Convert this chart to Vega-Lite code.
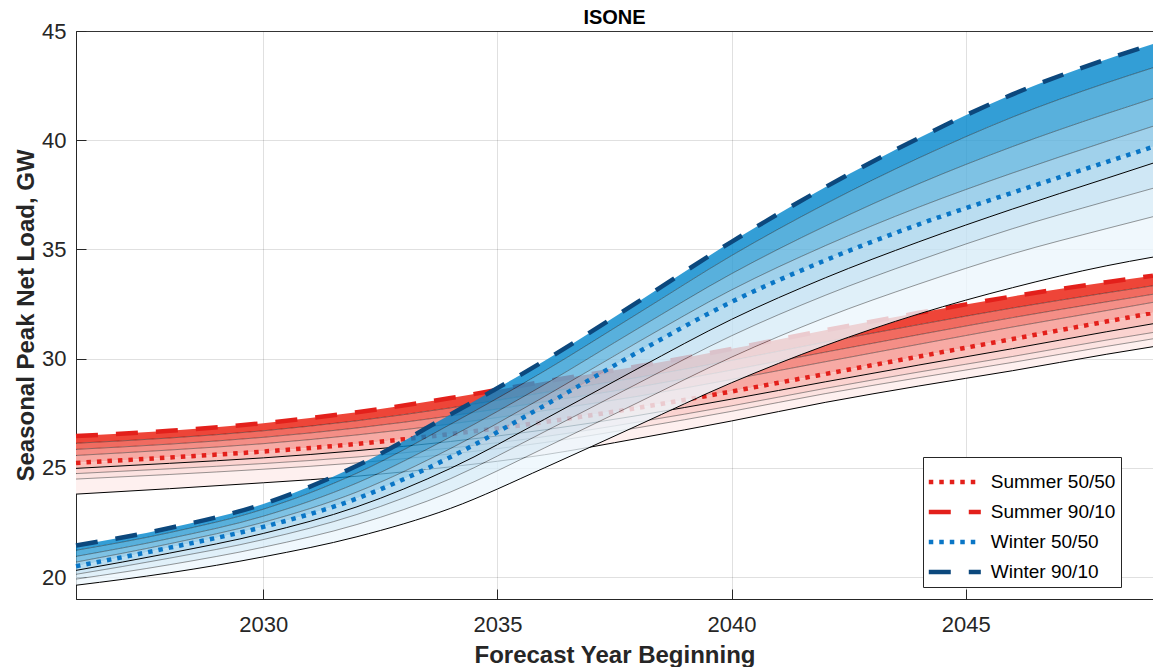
{
  "$schema": "https://vega.github.io/schema/vega-lite/v6.json",
  "width": 1077,
  "height": 568,
  "autosize": {"type": "none"},
  "padding": {"left": 76, "top": 31, "right": 0, "bottom": 68},
  "title": {"text": "ISONE", "fontSize": 20, "fontWeight": "bold", "font": "Liberation Sans", "color": "#000000", "anchor": "middle", "offset": -8},
  "data": {"values": [
    {"s": "Summer", "year": 2026, "p1": 26.46, "p2": 26.13, "p3": 25.85, "p4": 25.57, "p5": 25.23, "p6": 24.98, "p7": 24.74, "p8": 24.49, "p9": 23.8},
    {"s": "Summer", "year": 2028, "p1": 26.7, "p2": 26.37, "p3": 26.09, "p4": 25.82, "p5": 25.48, "p6": 25.21, "p7": 24.96, "p8": 24.7, "p9": 24.05},
    {"s": "Summer", "year": 2030, "p1": 27.05, "p2": 26.7, "p3": 26.4, "p4": 26.11, "p5": 25.75, "p6": 25.46, "p7": 25.2, "p8": 24.94, "p9": 24.32},
    {"s": "Summer", "year": 2032, "p1": 27.55, "p2": 27.16, "p3": 26.83, "p4": 26.51, "p5": 26.1, "p6": 25.79, "p7": 25.5, "p8": 25.23, "p9": 24.62},
    {"s": "Summer", "year": 2034, "p1": 28.2, "p2": 27.75, "p3": 27.38, "p4": 27.01, "p5": 26.55, "p6": 26.21, "p7": 25.91, "p8": 25.64, "p9": 25.05},
    {"s": "Summer", "year": 2036, "p1": 28.95, "p2": 28.45, "p3": 28.03, "p4": 27.62, "p5": 27.1, "p6": 26.74, "p7": 26.43, "p8": 26.16, "p9": 25.6},
    {"s": "Summer", "year": 2038, "p1": 29.65, "p2": 29.14, "p3": 28.7, "p4": 28.28, "p5": 27.75, "p6": 27.4, "p7": 27.1, "p8": 26.84, "p9": 26.35},
    {"s": "Summer", "year": 2040, "p1": 30.45, "p2": 29.92, "p3": 29.48, "p4": 29.05, "p5": 28.5, "p6": 28.15, "p7": 27.84, "p8": 27.59, "p9": 27.15},
    {"s": "Summer", "year": 2042, "p1": 31.3, "p2": 30.76, "p3": 30.3, "p4": 29.86, "p5": 29.3, "p6": 28.94, "p7": 28.64, "p8": 28.4, "p9": 28.0},
    {"s": "Summer", "year": 2044, "p1": 32.1, "p2": 31.56, "p3": 31.1, "p4": 30.66, "p5": 30.1, "p6": 29.71, "p7": 29.39, "p8": 29.13, "p9": 28.75},
    {"s": "Summer", "year": 2046, "p1": 32.85, "p2": 32.32, "p3": 31.88, "p4": 31.45, "p5": 30.9, "p6": 30.46, "p7": 30.1, "p8": 29.83, "p9": 29.45},
    {"s": "Summer", "year": 2048, "p1": 33.5, "p2": 33.01, "p3": 32.6, "p4": 32.2, "p5": 31.7, "p6": 31.23, "p7": 30.85, "p8": 30.56, "p9": 30.2},
    {"s": "Summer", "year": 2049, "p1": 33.8, "p2": 33.34, "p3": 32.95, "p4": 32.58, "p5": 32.1, "p6": 31.6, "p7": 31.2, "p8": 30.91, "p9": 30.55},
    {"s": "Winter", "year": 2026, "p1": 21.45, "p2": 21.23, "p3": 20.95, "p4": 20.69, "p5": 20.5, "p6": 20.31, "p7": 20.13, "p8": 19.91, "p9": 19.63},
    {"s": "Winter", "year": 2028, "p1": 22.25, "p2": 22.04, "p3": 21.77, "p4": 21.53, "p5": 21.35, "p6": 21.1, "p7": 20.87, "p8": 20.57, "p9": 20.2},
    {"s": "Winter", "year": 2030, "p1": 23.35, "p2": 23.11, "p3": 22.79, "p4": 22.51, "p5": 22.3, "p6": 22.0, "p7": 21.72, "p8": 21.37, "p9": 20.93},
    {"s": "Winter", "year": 2032, "p1": 25.1, "p2": 24.76, "p3": 24.31, "p4": 23.9, "p5": 23.6, "p6": 23.22, "p7": 22.87, "p8": 22.41, "p9": 21.85},
    {"s": "Winter", "year": 2034, "p1": 27.45, "p2": 27.0, "p3": 26.42, "p4": 25.89, "p5": 25.5, "p6": 24.98, "p7": 24.51, "p8": 23.9, "p9": 23.15},
    {"s": "Winter", "year": 2036, "p1": 29.9, "p2": 29.43, "p3": 28.81, "p4": 28.26, "p5": 27.85, "p6": 27.22, "p7": 26.65, "p8": 25.91, "p9": 25.0},
    {"s": "Winter", "year": 2038, "p1": 32.6, "p2": 32.07, "p3": 31.38, "p4": 30.76, "p5": 30.3, "p6": 29.55, "p7": 28.87, "p8": 27.99, "p9": 26.95},
    {"s": "Winter", "year": 2040, "p1": 35.35, "p2": 34.72, "p3": 33.89, "p4": 33.15, "p5": 32.6, "p6": 31.8, "p7": 31.05, "p8": 30.07, "p9": 28.9},
    {"s": "Winter", "year": 2042, "p1": 37.85, "p2": 37.08, "p3": 36.07, "p4": 35.17, "p5": 34.5, "p6": 33.7, "p7": 32.9, "p8": 31.88, "p9": 30.6},
    {"s": "Winter", "year": 2044, "p1": 40.1, "p2": 39.19, "p3": 38.01, "p4": 36.94, "p5": 36.15, "p6": 35.35, "p7": 34.5, "p8": 33.42, "p9": 32.05},
    {"s": "Winter", "year": 2046, "p1": 42.1, "p2": 41.06, "p3": 39.71, "p4": 38.5, "p5": 37.6, "p6": 36.85, "p7": 35.95, "p8": 34.8, "p9": 33.25},
    {"s": "Winter", "year": 2048, "p1": 43.7, "p2": 42.62, "p3": 41.21, "p4": 39.94, "p5": 39.0, "p6": 38.25, "p7": 37.2, "p8": 35.95, "p9": 34.25},
    {"s": "Winter", "year": 2049, "p1": 44.4, "p2": 43.32, "p3": 41.91, "p4": 40.64, "p5": 39.7, "p6": 38.95, "p7": 37.8, "p8": 36.5, "p9": 34.65}
  ]},
  "encoding": {
    "x": {"field": "year", "type": "quantitative", "scale": {"domain": [2026, 2049], "nice": false, "zero": false},
      "axis": {"values": [2030, 2035, 2040, 2045], "format": "d", "title": "Forecast Year Beginning"}}
  },
  "layer": [
    {"transform": [{"filter": "datum.s === 'Summer'"}], "mark": {"type": "area", "interpolate": "monotone", "color": "#EE4538"},
     "encoding": {"y": {"field": "p1", "type": "quantitative", "scale": {"domain": [19, 45], "nice": false, "zero": false},
       "axis": {"values": [20, 25, 30, 35, 40, 45], "title": "Seasonal Peak Net Load, GW"}}, "y2": {"field": "p2"}}},
    {"transform": [{"filter": "datum.s === 'Summer'"}], "mark": {"type": "area", "interpolate": "monotone", "color": "#F16B60"},
     "encoding": {"y": {"field": "p2", "type": "quantitative", "axis": {"values": [20, 25, 30, 35, 40, 45], "title": "Seasonal Peak Net Load, GW"}}, "y2": {"field": "p3"}}},
    {"transform": [{"filter": "datum.s === 'Summer'"}], "mark": {"type": "area", "interpolate": "monotone", "color": "#F48E86"},
     "encoding": {"y": {"field": "p3", "type": "quantitative", "axis": {"values": [20, 25, 30, 35, 40, 45], "title": "Seasonal Peak Net Load, GW"}}, "y2": {"field": "p4"}}},
    {"transform": [{"filter": "datum.s === 'Summer'"}], "mark": {"type": "area", "interpolate": "monotone", "color": "#F7AAA4"},
     "encoding": {"y": {"field": "p4", "type": "quantitative", "axis": {"values": [20, 25, 30, 35, 40, 45], "title": "Seasonal Peak Net Load, GW"}}, "y2": {"field": "p5"}}},
    {"transform": [{"filter": "datum.s === 'Summer'"}], "mark": {"type": "area", "interpolate": "monotone", "color": "#F9C0BB"},
     "encoding": {"y": {"field": "p5", "type": "quantitative", "axis": {"values": [20, 25, 30, 35, 40, 45], "title": "Seasonal Peak Net Load, GW"}}, "y2": {"field": "p6"}}},
    {"transform": [{"filter": "datum.s === 'Summer'"}], "mark": {"type": "area", "interpolate": "monotone", "color": "#FBD3D0"},
     "encoding": {"y": {"field": "p6", "type": "quantitative", "axis": {"values": [20, 25, 30, 35, 40, 45], "title": "Seasonal Peak Net Load, GW"}}, "y2": {"field": "p7"}}},
    {"transform": [{"filter": "datum.s === 'Summer'"}], "mark": {"type": "area", "interpolate": "monotone", "color": "#FCE3E1"},
     "encoding": {"y": {"field": "p7", "type": "quantitative", "axis": {"values": [20, 25, 30, 35, 40, 45], "title": "Seasonal Peak Net Load, GW"}}, "y2": {"field": "p8"}}},
    {"transform": [{"filter": "datum.s === 'Summer'"}], "mark": {"type": "area", "interpolate": "monotone", "color": "#FEF0EF"},
     "encoding": {"y": {"field": "p8", "type": "quantitative", "axis": {"values": [20, 25, 30, 35, 40, 45], "title": "Seasonal Peak Net Load, GW"}}, "y2": {"field": "p9"}}},
    {"transform": [{"filter": "datum.s === 'Summer'"}, {"fold": ["p2", "p3", "p4", "p7", "p8"], "as": ["k", "v"]}],
     "mark": {"type": "line", "interpolate": "monotone", "color": "#000000", "strokeWidth": 0.8, "opacity": 0.5},
     "encoding": {"y": {"field": "v", "type": "quantitative", "axis": {"values": [20, 25, 30, 35, 40, 45], "title": "Seasonal Peak Net Load, GW"}}, "detail": {"field": "k"}}},
    {"transform": [{"filter": "datum.s === 'Summer'"}, {"fold": ["p6", "p9"], "as": ["k", "v"]}],
     "mark": {"type": "line", "interpolate": "monotone", "color": "#000000", "strokeWidth": 1},
     "encoding": {"y": {"field": "v", "type": "quantitative", "axis": {"values": [20, 25, 30, 35, 40, 45], "title": "Seasonal Peak Net Load, GW"}}, "detail": {"field": "k"}}},
    {"transform": [{"filter": "datum.s === 'Summer'"}], "mark": {"type": "line", "interpolate": "monotone", "strokeWidth": 4.5, "strokeCap": "butt"},
     "encoding": {"y": {"field": "p5", "type": "quantitative", "axis": {"values": [20, 25, 30, 35, 40, 45], "title": "Seasonal Peak Net Load, GW"}},
       "color": {"datum": "Summer 50/50", "scale": {"domain": ["Summer 50/50", "Summer 90/10", "Winter 50/50", "Winter 90/10"], "range": ["#E3201B", "#E3201B", "#0A76C6", "#0C487D"]}, "legend": {"title": null}},
       "strokeDash": {"datum": "Summer 50/50", "scale": {"domain": ["Summer 50/50", "Summer 90/10", "Winter 50/50", "Winter 90/10"], "range": [[4.5, 6], [22, 18], [4.5, 6], [22, 18]]}, "legend": {"title": null}}}},
    {"transform": [{"filter": "datum.s === 'Summer'"}], "mark": {"type": "line", "interpolate": "monotone", "strokeWidth": 4.5, "strokeCap": "butt"},
     "encoding": {"y": {"field": "p1", "type": "quantitative", "axis": {"values": [20, 25, 30, 35, 40, 45], "title": "Seasonal Peak Net Load, GW"}},
       "color": {"datum": "Summer 90/10"}, "strokeDash": {"datum": "Summer 90/10"}}},
    {"transform": [{"filter": "datum.s === 'Winter'"}], "mark": {"type": "area", "interpolate": "monotone", "color": "#0086CC", "opacity": 0.8},
     "encoding": {"y": {"field": "p1", "type": "quantitative", "axis": {"values": [20, 25, 30, 35, 40, 45], "title": "Seasonal Peak Net Load, GW"}}, "y2": {"field": "p2"}}},
    {"transform": [{"filter": "datum.s === 'Winter'"}], "mark": {"type": "area", "interpolate": "monotone", "color": "#2E9CD3", "opacity": 0.8},
     "encoding": {"y": {"field": "p2", "type": "quantitative", "axis": {"values": [20, 25, 30, 35, 40, 45], "title": "Seasonal Peak Net Load, GW"}}, "y2": {"field": "p3"}}},
    {"transform": [{"filter": "datum.s === 'Winter'"}], "mark": {"type": "area", "interpolate": "monotone", "color": "#5EB3DD", "opacity": 0.8},
     "encoding": {"y": {"field": "p3", "type": "quantitative", "axis": {"values": [20, 25, 30, 35, 40, 45], "title": "Seasonal Peak Net Load, GW"}}, "y2": {"field": "p4"}}},
    {"transform": [{"filter": "datum.s === 'Winter'"}], "mark": {"type": "area", "interpolate": "monotone", "color": "#88C5E6", "opacity": 0.8},
     "encoding": {"y": {"field": "p4", "type": "quantitative", "axis": {"values": [20, 25, 30, 35, 40, 45], "title": "Seasonal Peak Net Load, GW"}}, "y2": {"field": "p5"}}},
    {"transform": [{"filter": "datum.s === 'Winter'"}], "mark": {"type": "area", "interpolate": "monotone", "color": "#A9D4EC", "opacity": 0.8},
     "encoding": {"y": {"field": "p5", "type": "quantitative", "axis": {"values": [20, 25, 30, 35, 40, 45], "title": "Seasonal Peak Net Load, GW"}}, "y2": {"field": "p6"}}},
    {"transform": [{"filter": "datum.s === 'Winter'"}], "mark": {"type": "area", "interpolate": "monotone", "color": "#C3E1F2", "opacity": 0.8},
     "encoding": {"y": {"field": "p6", "type": "quantitative", "axis": {"values": [20, 25, 30, 35, 40, 45], "title": "Seasonal Peak Net Load, GW"}}, "y2": {"field": "p7"}}},
    {"transform": [{"filter": "datum.s === 'Winter'"}], "mark": {"type": "area", "interpolate": "monotone", "color": "#D8ECF7", "opacity": 0.8},
     "encoding": {"y": {"field": "p7", "type": "quantitative", "axis": {"values": [20, 25, 30, 35, 40, 45], "title": "Seasonal Peak Net Load, GW"}}, "y2": {"field": "p8"}}},
    {"transform": [{"filter": "datum.s === 'Winter'"}], "mark": {"type": "area", "interpolate": "monotone", "color": "#ECF6FC", "opacity": 0.8},
     "encoding": {"y": {"field": "p8", "type": "quantitative", "axis": {"values": [20, 25, 30, 35, 40, 45], "title": "Seasonal Peak Net Load, GW"}}, "y2": {"field": "p9"}}},
    {"transform": [{"filter": "datum.s === 'Winter'"}, {"fold": ["p2", "p3", "p4", "p7", "p8"], "as": ["k", "v"]}],
     "mark": {"type": "line", "interpolate": "monotone", "color": "#000000", "strokeWidth": 0.8, "opacity": 0.5},
     "encoding": {"y": {"field": "v", "type": "quantitative", "axis": {"values": [20, 25, 30, 35, 40, 45], "title": "Seasonal Peak Net Load, GW"}}, "detail": {"field": "k"}}},
    {"transform": [{"filter": "datum.s === 'Winter'"}, {"fold": ["p6", "p9"], "as": ["k", "v"]}],
     "mark": {"type": "line", "interpolate": "monotone", "color": "#000000", "strokeWidth": 1},
     "encoding": {"y": {"field": "v", "type": "quantitative", "axis": {"values": [20, 25, 30, 35, 40, 45], "title": "Seasonal Peak Net Load, GW"}}, "detail": {"field": "k"}}},
    {"transform": [{"filter": "datum.s === 'Winter'"}], "mark": {"type": "line", "interpolate": "monotone", "strokeWidth": 4.5, "strokeCap": "butt"},
     "encoding": {"y": {"field": "p5", "type": "quantitative", "axis": {"values": [20, 25, 30, 35, 40, 45], "title": "Seasonal Peak Net Load, GW"}},
       "color": {"datum": "Winter 50/50"}, "strokeDash": {"datum": "Winter 50/50"}}},
    {"transform": [{"filter": "datum.s === 'Winter'"}], "mark": {"type": "line", "interpolate": "monotone", "strokeWidth": 4.5, "strokeCap": "butt"},
     "encoding": {"y": {"field": "p1", "type": "quantitative", "axis": {"values": [20, 25, 30, 35, 40, 45], "title": "Seasonal Peak Net Load, GW"}},
       "color": {"datum": "Winter 90/10"}, "strokeDash": {"datum": "Winter 90/10"}}}
  ],
  "config": {
    "view": {"stroke": "#3C3C3C", "strokeWidth": 1},
    "axis": {"labelFont": "Liberation Sans", "labelFontSize": 22, "labelColor": "#262626",
      "titleFont": "Liberation Sans", "titleFontSize": 24, "titleFontWeight": "bold", "titleColor": "#262626",
      "domainColor": "#262626", "domainWidth": 1, "tickColor": "#262626", "tickSize": -10, "tickWidth": 1,
      "grid": true, "gridColor": "#000000", "gridOpacity": 0.12, "gridWidth": 1, "zindex": 1},
    "axisX": {"labelPadding": 42, "labelBaseline": "alphabetic", "titleY": 63, "titleBaseline": "alphabetic"},
    "axisY": {"labelPadding": 20, "titleX": -43, "titleY": 284, "titleBaseline": "alphabetic", "titleAngle": 270, "titleAlign": "center"},
    "legend": {"orient": "none", "legendX": 847, "legendY": 426, "labelFontSize": 19, "labelFont": "Liberation Sans", "labelColor": "#000000",
      "symbolType": "M-1.5,0H1.5", "symbolSize": 1204, "symbolStrokeWidth": 4.5, "symbolOffset": 6.8, "strokeColor": "#262626", "fillColor": "#FFFFFF",
      "padding": 5, "rowPadding": 0, "labelOffset": 16}
  }
}
